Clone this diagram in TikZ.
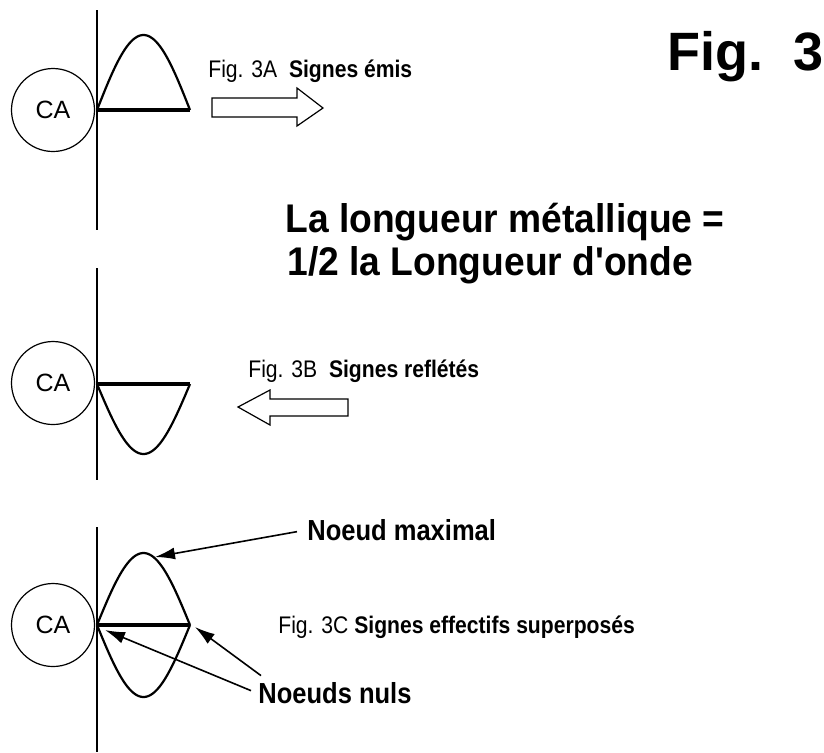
\documentclass[tikz,border=0pt]{standalone}
\usepackage{fontspec}
\setmainfont{Liberation Sans}
\newfontfamily\narrowfont[FakeStretch=0.88]{Liberation Sans}
\newfontfamily\headfont[FakeStretch=0.93]{Liberation Sans}
\usetikzlibrary{arrows.meta,positioning,calc}

\begin{document}
\begin{tikzpicture}[x=0.5pt,y=-0.5pt]
        \tikzstyle{mast}=[line width=1.4pt]
        \tikzstyle{ca}=[draw,circle,line width=0.6pt,minimum size=41.5pt,inner sep=0pt,font=\fontsize{12.5}{14}\selectfont]
        \tikzstyle{wave}=[line width=1.1pt]
        \tikzstyle{base}=[line width=1.6pt]
        \tikzstyle{hollow}=[line width=0.6pt]
        \tikzstyle{figtext}=[anchor=base west,inner sep=0pt,font=\narrowfont\fontsize{12}{14}\selectfont]
        \tikzstyle{lbl}=[anchor=base west,inner sep=0pt,font=\narrowfont\bfseries\fontsize{14.5}{16}\selectfont]
        \tikzstyle{big}=[anchor=base west,inner sep=0pt,font=\headfont\bfseries\fontsize{20}{24}\selectfont]
        \tikzstyle{ptr}=[line width=0.8pt,-{Latex[length=10pt,width=6pt]}]
        \useasboundingbox (0,0) rectangle (824,752);
        % title
        \node[anchor=base west,inner sep=0pt,font=\bfseries\fontsize{27}{32}\selectfont] (fig) at (667,70) {Fig.\ \ 3};
        \node[big] (msg1) at (285,232) {La longueur métallique =};
        \node[big] (msg2) at (287,275) {1/2 la Longueur d'onde};
        % Fig. 3A
        \node[ca] (caA) at (53,110) {CA};
        \draw[mast] (97,10) -- (97,230);
        \draw[base] (97,110) -- (190,110);
        \draw[wave] plot[domain=0:180,samples=50] ({97+0.5167*\x},{110-75*sin(\x)});
        \draw[hollow] (212,98) -- (297,98) -- (297,88) -- (323,108) -- (297,126) -- (297,117) -- (212,117) -- cycle;
        \node[figtext] (figA) at (208,77) {Fig. 3A\ \ \textbf{Signes émis}};
        % Fig. 3B
        \node[ca] (caB) at (53,383) {CA};
        \draw[mast] (97,268) -- (97,480);
        \draw[base] (97,384) -- (190,384);
        \draw[wave] plot[domain=0:180,samples=50] ({97+0.5167*\x},{384+70*sin(\x)});
        \draw[hollow] (348,399) -- (270,399) -- (270,390) -- (238,407) -- (270,425) -- (270,416) -- (348,416) -- cycle;
        \node[figtext] (figB) at (248,377) {Fig. 3B\ \ \textbf{Signes reflétés}};
        % Fig. 3C
        \node[ca] (caC) at (53,625) {CA};
        \draw[mast] (97,527) -- (97,752);
        \draw[base] (97,625) -- (190,625);
        \draw[wave] plot[domain=0:180,samples=50] ({97+0.5167*\x},{625-72*sin(\x)});
        \draw[wave] plot[domain=0:180,samples=50] ({97+0.5167*\x},{625+72*sin(\x)});
        \node[figtext] (figC) at (278,633) {Fig. 3C \textbf{Signes effectifs superposés}};
        \node[lbl] (max) at (307,540) {Noeud maximal};
        \node[lbl] (nuls) at (258,703) {Noeuds nuls};
        \coordinate (peak) at (155,557);
        \coordinate (null1) at (105,630);
        \coordinate (null2) at (195,627);
        \draw[ptr] ($(max.west)+(-10,2)$) -- (peak);
        \draw[ptr] ($(nuls.west)+(-7,-2)$) -- (null1);
        \draw[ptr] ($(nuls.north west)+(3,-6)$) -- (null2);
\end{tikzpicture}
\end{document}
